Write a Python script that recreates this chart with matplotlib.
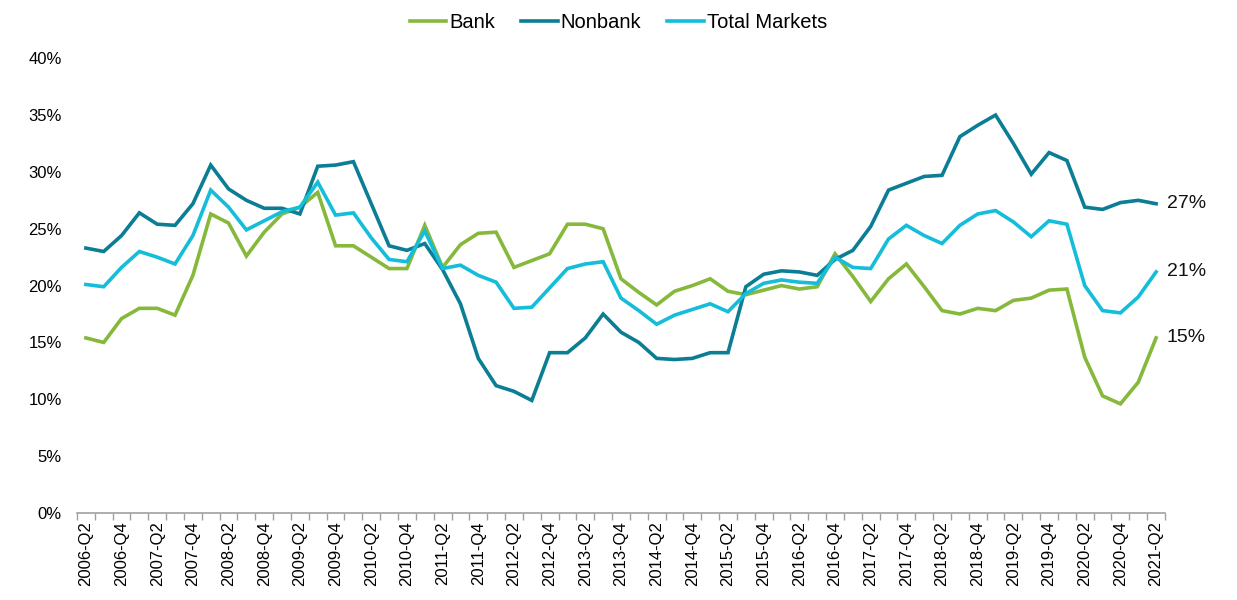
import numpy as np
import matplotlib.pyplot as plt

plt.rcParams['font.family'] = ['Liberation Sans', 'DejaVu Sans']

# quarters 2006-Q2 .. 2021-Q2
quarters = []
for y in range(2006, 2022):
    for q in range(1, 5):
        if (y == 2006 and q < 2) or (y == 2021 and q > 2):
            continue
        quarters.append(f"{y}-Q{q}")

bank = [15.4, 15.0, 17.1, 18.0, 18.0, 17.4, 20.9, 26.3, 25.5, 22.6,
        24.7, 26.3, 26.9, 28.2, 23.5, 23.5, 22.5, 21.5, 21.5, 25.3,
        21.6, 23.6, 24.6, 24.7, 21.6, 22.2, 22.8, 25.4, 25.4, 25.0,
        20.6, 19.4, 18.3, 19.5, 20.0, 20.6, 19.5, 19.2, 19.6, 20.0,
        19.7, 19.9, 22.8, 20.8, 18.6, 20.6, 21.9, 19.9, 17.8, 17.5,
        18.0, 17.8, 18.7, 18.9, 19.6, 19.7, 13.7, 10.3, 9.6, 11.5, 15.4]

nonbank = [23.3, 23.0, 24.4, 26.4, 25.4, 25.3, 27.2, 30.6, 28.5, 27.5,
           26.8, 26.8, 26.3, 30.5, 30.6, 30.9, 27.2, 23.5, 23.1, 23.7,
           21.4, 18.4, 13.6, 11.2, 10.7, 9.9, 14.1, 14.1, 15.4, 17.5,
           15.9, 15.0, 13.6, 13.5, 13.6, 14.1, 14.1, 19.9, 21.0, 21.3,
           21.2, 20.9, 22.3, 23.1, 25.2, 28.4, 29.0, 29.6, 29.7, 33.1,
           34.1, 35.0, 32.5, 29.8, 31.7, 31.0, 26.9, 26.7, 27.3, 27.5, 27.2]

total = [20.1, 19.9, 21.6, 23.0, 22.5, 21.9, 24.4, 28.4, 26.9, 24.9,
         25.7, 26.5, 26.9, 29.1, 26.2, 26.4, 24.2, 22.3, 22.1, 24.8,
         21.5, 21.8, 20.9, 20.3, 18.0, 18.1, 19.8, 21.5, 21.9, 22.1,
         18.9, 17.8, 16.6, 17.4, 17.9, 18.4, 17.7, 19.3, 20.2, 20.5,
         20.3, 20.2, 22.5, 21.6, 21.5, 24.1, 25.3, 24.4, 23.7, 25.3,
         26.3, 26.6, 25.6, 24.3, 25.7, 25.4, 20.0, 17.8, 17.6, 19.0, 21.2]

series_names = ['Bank', 'Nonbank', 'Total Markets']
colors = ['#86B83C', '#0B7D94', '#14BDD9']

fig = plt.figure(figsize=(12.37, 6.0), dpi=100)
ax = fig.add_axes([0.0622, 0.145, 0.8796, 0.758])

x = np.arange(len(quarters))
for vals, name, c in zip([bank, nonbank, total], series_names, colors):
    ax.plot(x, vals, color=c, lw=2.6, label=name, solid_joinstyle='miter')
    ax.text(x[-1] + 0.6, vals[-1], f"{round(vals[-1]):.0f}%", fontsize=14,
            va='center', ha='left', color='#111111')

ax.set_xlim(-0.5, len(quarters) - 0.5)
ax.set_ylim(0, 40)
ax.set_yticks(range(0, 41, 5))
ax.set_yticklabels([f"{v}%" for v in range(0, 41, 5)], fontsize=12)

ax.set_xticks(x[::2])
ax.set_xticklabels(quarters[::2], rotation=90, fontsize=12)
ax.set_xticks(np.arange(-0.5, len(quarters), 1), minor=True)
ax.tick_params(axis='x', which='major', length=0, pad=6)
ax.tick_params(axis='x', which='minor', length=5, color='#A0A0A0', width=1)
ax.tick_params(axis='y', length=0, pad=11)

for s in ['top', 'right', 'left']:
    ax.spines[s].set_visible(False)
ax.spines['bottom'].set_color('#A0A0A0')
ax.spines['bottom'].set_linewidth(1.2)

fig.legend(loc='upper center', bbox_to_anchor=(0.5, 1.008), ncol=3, frameon=False,
           fontsize=14.5, handlelength=1.8, handletextpad=0.15, columnspacing=1.3)

fig.savefig('out.png', dpi=100)
